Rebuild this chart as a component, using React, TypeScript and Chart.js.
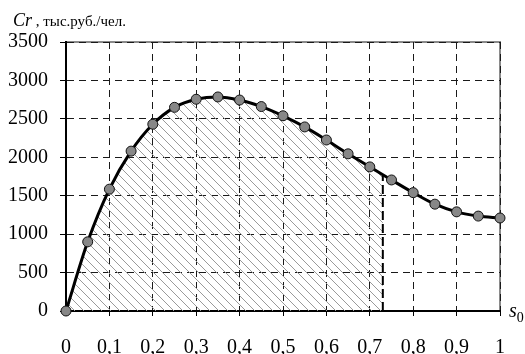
import React, { useEffect, useRef } from "react";
import { Chart, registerables } from "chart.js";

Chart.register(...registerables);

const sValues = [0, 0.05, 0.1, 0.15, 0.2, 0.25, 0.3, 0.35, 0.4, 0.45, 0.5, 0.55, 0.6, 0.65, 0.7, 0.75, 0.8, 0.85, 0.9, 0.95, 1];
const crValues = [0, 900, 1585, 2080, 2430, 2650, 2755, 2785, 2745, 2660, 2540, 2395, 2225, 2045, 1875, 1705, 1540, 1390, 1290, 1235, 1210];
const hatchCut = 0.73;
const yTitleMain = "Cr";
const yTitleUnit = " , тыс.руб./чел.";
const xTitleMain = "s";
const xTitleSub = "0";

const FONT = "'Liberation Serif', 'Times New Roman', serif";

const fmtX = (v: number) => {
  if (Math.abs(v) < 1e-9) return "0";
  if (Math.abs(v - 1) < 1e-9) return "1";
  return v.toFixed(1).replace(".", ",");
};

const decorPlugin = {
  id: "decor",
  beforeDraw(chart: any) {
    const { ctx, chartArea } = chart;
    ctx.save();
    ctx.strokeStyle = "#8a8a8a";
    ctx.lineWidth = 2;
    ctx.beginPath();
    ctx.moveTo(chartArea.left, chartArea.top);
    ctx.lineTo(chartArea.right, chartArea.top);
    ctx.lineTo(chartArea.right, chartArea.bottom);
    ctx.stroke();
    ctx.restore();
  },
  beforeDatasetsDraw(chart: any) {
    const { ctx, chartArea } = chart;
    const xs = chart.scales.x;
    const ys = chart.scales.y;
    const meta = chart.getDatasetMeta(0);
    const line = meta.dataset;
    if (!line) return;
    const xCut = xs.getPixelForValue(hatchCut);
    const y0 = ys.getPixelForValue(0);
    const pts = meta.data;
    ctx.save();
    ctx.beginPath();
    ctx.rect(chartArea.left, chartArea.top - 5, xCut - chartArea.left, y0 - chartArea.top + 5);
    ctx.clip();
    ctx.beginPath();
    line.path(ctx);
    ctx.lineTo(pts[pts.length - 1].x, y0);
    ctx.lineTo(pts[0].x, y0);
    ctx.closePath();
    ctx.clip();
    ctx.strokeStyle = "#9a9a9a";
    ctx.lineWidth = 1;
    ctx.beginPath();
    const step = 9;
    for (let c = chartArea.left - (y0 - chartArea.top) - step * 2; c < xCut + step; c += step) {
      ctx.moveTo(c, chartArea.top);
      ctx.lineTo(c + (y0 - chartArea.top), y0);
    }
    ctx.stroke();
    ctx.restore();

    let yCut: number | null = null;
    try {
      const ip = line.interpolate({ x: xCut }, "x");
      if (ip) yCut = ip.y;
    } catch (e) {
      yCut = null;
    }
    if (yCut == null) {
      for (let i = 1; i < pts.length; i++) {
        if (pts[i].x >= xCut) {
          const t = (xCut - pts[i - 1].x) / (pts[i].x - pts[i - 1].x);
          yCut = pts[i - 1].y + t * (pts[i].y - pts[i - 1].y);
          break;
        }
      }
    }
    ctx.save();
    ctx.strokeStyle = "#000";
    ctx.lineWidth = 2;
    ctx.setLineDash([9, 4]);
    ctx.beginPath();
    ctx.moveTo(xCut, y0);
    ctx.lineTo(xCut, yCut as number);
    ctx.stroke();
    ctx.restore();
  },
  afterDraw(chart: any) {
    const { ctx } = chart;
    ctx.save();
    ctx.fillStyle = "#000";
    ctx.textBaseline = "alphabetic";
    ctx.textAlign = "left";
    ctx.font = `italic 18px ${FONT}`;
    ctx.fillText(yTitleMain, 13, 26);
    const w = ctx.measureText(yTitleMain).width;
    ctx.font = `15px ${FONT}`;
    ctx.fillText(yTitleUnit, 13 + w, 26);
    ctx.font = `italic 20px ${FONT}`;
    ctx.fillText(xTitleMain, 509, 317);
    const ws = ctx.measureText(xTitleMain).width;
    ctx.font = `14px ${FONT}`;
    ctx.fillText(xTitleSub, 509 + ws, 322);
    ctx.restore();
  },
};

export default function App() {
  const ref = useRef<HTMLCanvasElement | null>(null);
  useEffect(() => {
    if (!ref.current) return;
    const chart = new Chart(ref.current, {
      type: "line",
      data: {
        datasets: [
          {
            data: sValues.map((s, i) => ({ x: s, y: crValues[i] })),
            borderColor: "#000",
            borderWidth: 3,
            cubicInterpolationMode: "monotone",
            pointRadius: 5,
            pointBackgroundColor: "#878787",
            pointBorderColor: "#111",
            pointBorderWidth: 1,
            fill: false,
            clip: false as any,
          },
        ],
      },
      options: {
        responsive: false,
        animation: false,
        devicePixelRatio: 1,
        layout: { padding: { left: 0, right: 25, top: 42, bottom: 0 } },
        plugins: { legend: { display: false }, tooltip: { enabled: false } },
        scales: {
          x: {
            type: "linear",
            min: 0,
            max: 1,
            afterFit: (s: any) => {
              s.height = 43;
              s.paddingRight = 0;
              s.paddingLeft = 0;
            },
            ticks: {
              stepSize: 0.1,
              callback: (v: any) => fmtX(Number(v)),
              font: { family: FONT, size: 20 },
              color: "#000",
              padding: 20,
              maxRotation: 0,
              autoSkip: false,
            },
            grid: { color: "#1a1a1a", lineWidth: 1, tickLength: 5, tickColor: "#000", tickWidth: 1 },
            border: { display: true, color: "#000", width: 2, dash: [7, 5] },
          },
          y: {
            type: "linear",
            min: 0,
            max: 3500,
            afterFit: (s: any) => {
              s.width = 66;
              s.paddingTop = 0;
              s.paddingBottom = 0;
            },
            ticks: {
              stepSize: 500,
              callback: (v: any) => String(v),
              font: { family: FONT, size: 20 },
              color: "#000",
              padding: 12,
            },
            grid: { color: "#1a1a1a", lineWidth: 1, tickLength: 6, tickColor: "#000", tickWidth: 1 },
            border: { display: true, color: "#000", width: 2, dash: [7, 5] },
          },
        },
      },
      plugins: [decorPlugin],
    });
    return () => chart.destroy();
  }, []);
  return (
    <div style={{ position: "fixed", left: 0, top: 0, width: 525, height: 354, background: "#fff" }}>
      <canvas ref={ref} width={525} height={354} style={{ width: 525, height: 354 }} />
    </div>
  );
}
